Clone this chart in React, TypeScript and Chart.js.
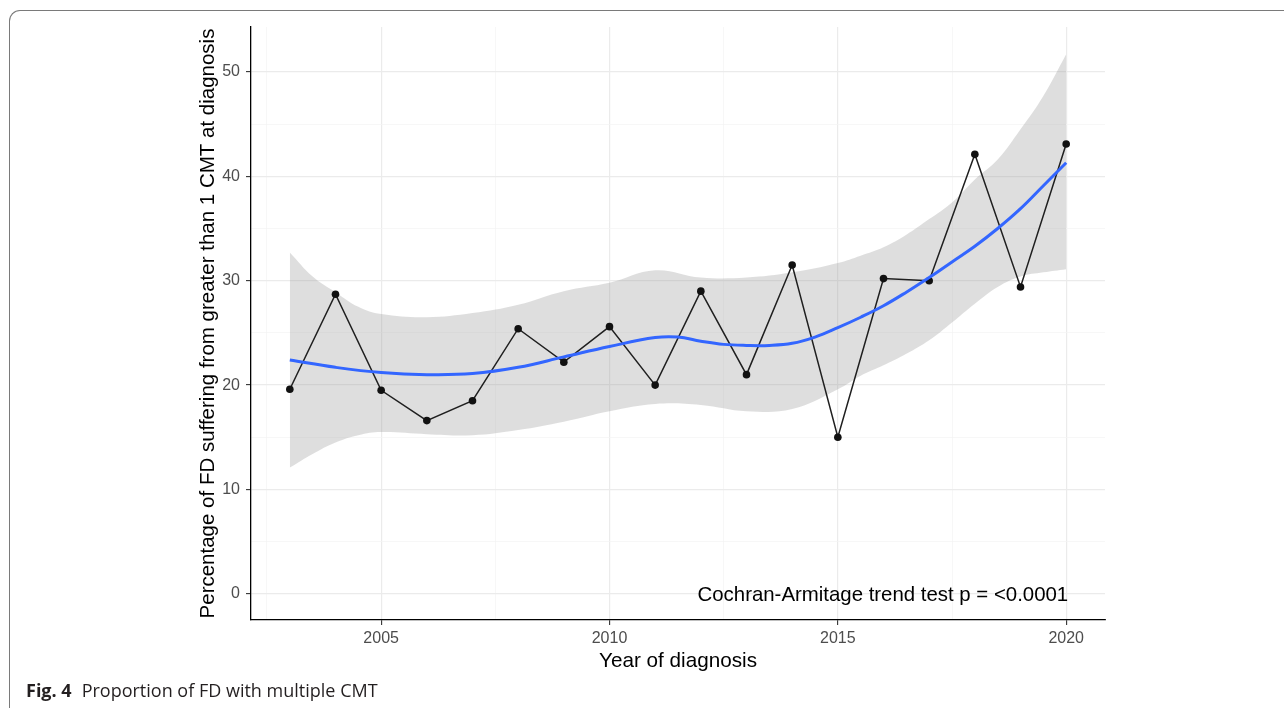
import React, { useEffect, useRef } from "react";
import { Chart, registerables } from "chart.js";

Chart.register(...registerables);

// ---- data ----
const years = [2003, 2004, 2005, 2006, 2007, 2008, 2009, 2010, 2011, 2012, 2013, 2014, 2015, 2016, 2017, 2018, 2019, 2020];
const percentages = [19.6, 28.7, 19.5, 16.6, 18.5, 25.4, 22.2, 25.6, 20.0, 29.0, 21.0, 31.5, 15.0, 30.2, 30.0, 42.1, 29.4, 43.1];

const fitYears = [2003, 2004, 2005, 2006, 2007, 2008, 2009, 2010, 2011, 2011.5, 2012, 2012.5, 2013, 2013.5, 2014, 2014.5, 2015, 2015.5, 2016, 2016.5, 2017, 2017.5, 2018, 2018.5, 2019, 2019.5, 2020];
const fitValues = [22.4, 21.7, 21.2, 21.0, 21.1, 21.7, 22.7, 23.7, 24.55, 24.6, 24.2, 23.9, 23.8, 23.8, 24.0, 24.6, 25.5, 26.5, 27.6, 28.9, 30.3, 31.8, 33.3, 35.0, 36.9, 39.1, 41.3];

const bandYears = [2003, 2003.5, 2004, 2004.5, 2005, 2006, 2007, 2008, 2009, 2010, 2011, 2012, 2013, 2014, 2015, 2015.5, 2016, 2016.5, 2017, 2017.5, 2018, 2018.5, 2019, 2019.5, 2020];
const bandUpper = [32.7, 30.4, 28.9, 27.5, 26.8, 26.5, 26.9, 27.7, 29.0, 29.8, 31.0, 30.3, 30.3, 30.8, 31.7, 32.4, 33.2, 34.4, 35.9, 37.5, 39.7, 41.6, 44.5, 47.7, 51.7];
const bandLower = [12.1, 13.4, 14.5, 15.2, 15.5, 15.3, 15.2, 15.7, 16.5, 17.5, 18.2, 18.1, 17.5, 17.7, 19.6, 20.9, 21.9, 23.0, 24.3, 26.0, 27.8, 29.4, 30.4, 30.8, 31.1];

const xTickValues = [2002.5, 2005, 2007.5, 2010, 2012.5, 2015, 2017.5, 2020];
const yTickValues = [0, 5, 10, 15, 20, 25, 30, 35, 40, 45, 50];

const xTitle = "Year of diagnosis";
const yTitle = "Percentage of FD suffering from greater than 1 CMT at diagnosis";
const annotationText = "Cochran-Armitage trend test p = <0.0001";
const captionBold = "Fig. 4";
const captionText = "Proportion of FD with multiple CMT";

const FONT = '"Liberation Sans", Arial, Helvetica, sans-serif';

const zip = (xs: number[], ys: number[]) => xs.map((x, i) => ({ x, y: ys[i] }));

const textPlugin = {
  id: "customTexts",
  afterDraw(chart: any) {
    const { ctx, chartArea, scales } = chart;
    ctx.save();
    ctx.fillStyle = "#000";
    // x title
    ctx.font = `20.7px ${FONT}`;
    ctx.textAlign = "center";
    ctx.textBaseline = "alphabetic";
    ctx.fillText(xTitle, (chartArea.left + chartArea.right) / 2, 667);
    // annotation
    ctx.font = `20.4px ${FONT}`;
    ctx.textAlign = "right";
    ctx.fillText(annotationText, scales.x.getPixelForValue(2020) + 2, scales.y.getPixelForValue(0) + 7.5);
    // y title
    ctx.font = `20.5px ${FONT}`;
    ctx.translate(214, (chartArea.top + chartArea.bottom) / 2);
    ctx.rotate(-Math.PI / 2);
    ctx.textAlign = "center";
    ctx.fillText(yTitle, 0, 0);
    ctx.restore();
  },
};

export default function App() {
  const canvasRef = useRef<HTMLCanvasElement>(null);

  useEffect(() => {
    if (!canvasRef.current) return;
    const isMajorX = (v: number) => v % 5 === 0;
    const isMajorY = (v: number) => v % 10 === 0;
    const chart = new Chart(canvasRef.current, {
      type: "line",
      data: {
        datasets: [
          {
            label: "fit",
            data: zip(fitYears, fitValues),
            borderColor: "#3366FF",
            borderWidth: 3,
            pointRadius: 0,
            tension: 0.4,
            fill: false,
          },
          {
            label: "observed",
            data: zip(years, percentages),
            borderColor: "#1f1f1f",
            borderWidth: 1.5,
            pointRadius: 3.8,
            pointBackgroundColor: "#111111",
            pointBorderWidth: 0,
            tension: 0,
            fill: false,
          },
          {
            label: "upper",
            data: zip(bandYears, bandUpper),
            borderWidth: 0,
            borderColor: "rgba(0,0,0,0)",
            pointRadius: 0,
            tension: 0.4,
            backgroundColor: "rgba(153,153,153,0.32)",
            fill: "+1",
          },
          {
            label: "lower",
            data: zip(bandYears, bandLower),
            borderWidth: 0,
            borderColor: "rgba(0,0,0,0)",
            pointRadius: 0,
            tension: 0.4,
            fill: false,
          },
        ],
      },
      options: {
        animation: false,
        responsive: false,
        devicePixelRatio: 1,
        layout: { padding: { left: 0, right: 179, top: 27, bottom: 0 } },
        plugins: { legend: { display: false }, tooltip: { enabled: false } },
        scales: {
          x: {
            type: "linear",
            min: 2002.15,
            max: 2020.85,
            afterBuildTicks: (s: any) => {
              s.ticks = xTickValues.map((v) => ({ value: v }));
            },
            afterFit: (s: any) => {
              s.height = 88;
            },
            ticks: {
              autoSkip: false,
              maxRotation: 0,
              minRotation: 0,
              color: "#4D4D4D",
              font: { size: 16, family: FONT },
              padding: 4,
              callback: (v: any) => (isMajorX(Number(v)) ? String(v) : ""),
            },
            grid: {
              color: (c: any) => (c.tick && isMajorX(c.tick.value) ? "#EBEBEB" : "#F3F3F3"),
              lineWidth: (c: any) => (c.tick && isMajorX(c.tick.value) ? 1.2 : 0.7),
              tickLength: 5,
              tickColor: (c: any) => (c.tick && isMajorX(c.tick.value) ? "#333333" : "rgba(0,0,0,0)"),
              tickWidth: 1.1,
            },
            border: { display: true, color: "#000", width: 1.3 },
          },
          y: {
            type: "linear",
            min: -2.5,
            max: 54.3,
            afterBuildTicks: (s: any) => {
              s.ticks = yTickValues.map((v) => ({ value: v }));
            },
            afterFit: (s: any) => {
              s.width = 251;
            },
            ticks: {
              autoSkip: false,
              color: "#4D4D4D",
              font: { size: 16, family: FONT },
              padding: 6,
              callback: (v: any) => (isMajorY(Number(v)) ? String(v) : ""),
            },
            grid: {
              color: (c: any) => (c.tick && isMajorY(c.tick.value) ? "#EBEBEB" : "#F3F3F3"),
              lineWidth: (c: any) => (c.tick && isMajorY(c.tick.value) ? 1.2 : 0.7),
              tickLength: 5,
              tickColor: (c: any) => (c.tick && isMajorY(c.tick.value) ? "#333333" : "rgba(0,0,0,0)"),
              tickWidth: 1.1,
            },
            border: { display: true, color: "#000", width: 1.3 },
          },
        },
      },
      plugins: [textPlugin],
    } as any);
    return () => chart.destroy();
  }, []);

  return (
    <div style={{ position: "absolute", left: 0, top: 0, width: 1284, height: 708, overflow: "hidden", background: "#fff" }}>
      <div
        style={{
          position: "absolute",
          left: 9,
          top: 10,
          width: 1320,
          height: 760,
          borderTop: "1.5px solid #7a7a7a",
          borderLeft: "1.5px solid #7a7a7a",
          borderTopLeftRadius: 11,
          boxSizing: "border-box",
        }}
      />
      <canvas ref={canvasRef} width={1284} height={708} style={{ position: "absolute", left: 0, top: 0 }} />
      <div
        style={{
          position: "absolute",
          left: 26,
          top: 680,
          fontFamily: '"Open Sans", "Noto Sans", sans-serif',
          fontSize: 18,
          lineHeight: "20px",
          color: "#231f20",
          whiteSpace: "nowrap",
        }}
      >
        <span style={{ fontWeight: 700 }}>{captionBold}</span>
        <span style={{ marginLeft: 10 }}>{captionText}</span>
      </div>
    </div>
  );
}
